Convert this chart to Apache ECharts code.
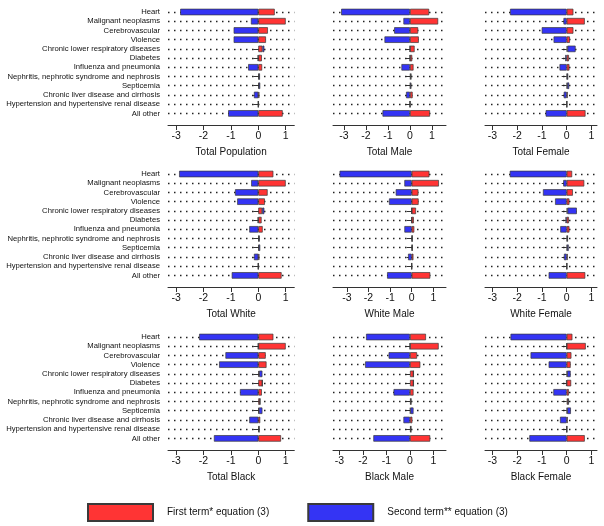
<!DOCTYPE html>
<html><head><meta charset="utf-8">
<script src="https://cdn.jsdelivr.net/npm/echarts@6/dist/echarts.min.js"></script>
<style>html,body{margin:0;padding:0;background:#fff}#c{width:604px;height:526px}</style>
</head><body><div id="c"></div>
<script>
const categories = ['Heart','Malignant neoplasms','Cerebrovascular','Violence','Chronic lower respiratory diseases','Diabetes','Influenza and pneumonia','Nephritis, nephrotic syndrome and nephrosis','Septicemia','Chronic liver disease and cirrhosis','Hypertension and hypertensive renal disease','All other'];
const tickValues = [-3, -2, -1, 0, 1];
const seriesNames = ['First term* equation (3)', 'Second term** equation (3)'];

const firstTotalPopulation  = [0.60, 1.00, 0.35, 0.28, 0.15, 0.13, 0.14, 0.02, 0.02, 0.04, 0.01, 0.89];
const secondTotalPopulation = [-2.85, -0.27, -0.90, -0.90, 0.07, -0.02, -0.37, 0.04, 0.05, -0.16, -0.005, -1.10];
const firstTotalMale  = [0.87, 1.28, 0.37, 0.40, 0.21, 0.10, 0.16, 0.03, 0.02, 0.12, 0.01, 0.91];
const secondTotalMale = [-3.13, -0.30, -0.72, -1.16, -0.01, -0.01, -0.39, 0.03, 0.04, -0.18, -0.005, -1.25];
const firstTotalFemale  = [0.27, 0.73, 0.27, 0.13, 0.03, 0.09, 0.11, 0.02, 0.02, 0.04, 0.005, 0.76];
const secondTotalFemale = [-2.29, -0.13, -1.01, -0.53, 0.33, -0.06, -0.29, 0.04, 0.08, -0.12, 0.005, -0.85];
const firstTotalWhite  = [0.55, 1.00, 0.34, 0.24, 0.14, 0.12, 0.16, 0.02, 0.02, 0.04, 0.005, 0.85];
const secondTotalWhite = [-2.89, -0.26, -0.85, -0.77, 0.08, -0.02, -0.33, 0.03, 0.05, -0.16, -0.005, -0.97];
const firstWhiteMale  = [0.82, 1.26, 0.31, 0.32, 0.20, 0.10, 0.12, 0.02, 0.02, 0.08, 0.005, 0.86];
const secondWhiteMale = [-3.34, -0.34, -0.74, -1.05, -0.01, -0.01, -0.34, 0.01, 0.02, -0.17, -0.005, -1.14];
const firstWhiteFemale  = [0.22, 0.71, 0.25, 0.11, 0.03, 0.09, 0.11, 0.02, 0.02, 0.04, 0.005, 0.75];
const secondWhiteFemale = [-2.30, -0.14, -0.96, -0.47, 0.38, -0.05, -0.26, 0.03, 0.06, -0.11, 0.005, -0.73];
const firstTotalBlack  = [0.55, 1.00, 0.27, 0.30, 0.03, 0.15, 0.13, 0.06, 0.02, 0.07, 0.03, 0.83];
const secondTotalBlack = [-2.16, -0.01, -1.20, -1.43, 0.12, 0.00, -0.67, 0.01, 0.13, -0.33, 0.00, -1.62];
const firstBlackMale  = [0.68, 1.22, 0.30, 0.44, 0.15, 0.15, 0.15, 0.04, 0.02, 0.10, 0.04, 0.86];
const secondBlackMale = [-1.87, -0.01, -0.91, -1.91, 0.00, 0.00, -0.70, 0.01, 0.13, -0.28, 0.00, -1.56];
const firstBlackFemale  = [0.23, 0.77, 0.19, 0.16, 0.02, 0.18, 0.09, 0.05, 0.02, 0.04, 0.005, 0.73];
const secondBlackFemale = [-2.27, -0.01, -1.46, -0.73, 0.14, -0.02, -0.54, 0.04, 0.15, -0.27, 0.00, -1.51];

const panels = [
  {title: 'Total Population', first: firstTotalPopulation, second: secondTotalPopulation},
  {title: 'Total Male', first: firstTotalMale, second: secondTotalMale},
  {title: 'Total Female', first: firstTotalFemale, second: secondTotalFemale},
  {title: 'Total White', first: firstTotalWhite, second: secondTotalWhite},
  {title: 'White Male', first: firstWhiteMale, second: secondWhiteMale},
  {title: 'White Female', first: firstWhiteFemale, second: secondWhiteFemale},
  {title: 'Total Black', first: firstTotalBlack, second: secondTotalBlack},
  {title: 'Black Male', first: firstBlackMale, second: secondBlackMale},
  {title: 'Black Female', first: firstBlackFemale, second: secondBlackFemale}
];

// layout (pixels)
const FONT = '"Liberation Sans", Arial, sans-serif';
const RED = '#FF3434', BLUE = '#3434F4', EDGE = '#3a3a3a', INK = '#111';
const colLeft = [168, 333, 485], colRight = [294.3, 446, 597];
const rowTop = [7.4, 169.4, 332.4], gridH = 110.6;
const zeroPx = [[258.3, 410, 566.7], [258.3, 411.7, 566.7], [258.3, 410, 566.7]];
const unitPx = [[27.4, 22, 24.75], [27.4, 21.6, 24.75], [27.4, 23.5, 24.75]];

const grid = [], xAxis = [], yAxis = [], series = [];
panels.forEach((p, i) => {
  const r = Math.floor(i / 3), c = i % 3;
  grid.push({left: colLeft[c], top: rowTop[r], width: colRight[c] - colLeft[c], height: gridH, containLabel: false});
  xAxis.push({
    gridIndex: i, type: 'value',
    min: (colLeft[c] - zeroPx[r][c]) / unitPx[r][c],
    max: (colRight[c] - zeroPx[r][c]) / unitPx[r][c],
    offset: 7,
    axisLine: {show: true, onZero: false, lineStyle: {color: '#333', width: 1}},
    axisTick: {show: true, length: 5, customValues: tickValues, lineStyle: {color: '#333'}},
    axisLabel: {customValues: tickValues, fontSize: 10.5, color: INK, margin: 6, fontFamily: FONT},
    splitLine: {show: false},
    name: p.title, nameLocation: 'middle', nameGap: 22,
    nameTextStyle: {fontSize: 10, color: INK, fontFamily: FONT}
  });
  yAxis.push({
    gridIndex: i, type: 'category', data: categories, inverse: true,
    axisLine: {show: false},
    axisTick: {show: true, alignWithLabel: true, interval: 0, length: 5, lineStyle: {color: '#333'}},
    axisLabel: {show: c === 0, interval: 0, fontSize: 7.7, color: INK, margin: 8, fontFamily: FONT},
    splitLine: {show: false}
  });
  const common = {type: 'bar', xAxisIndex: i, yAxisIndex: i, stack: 'panel' + i, barWidth: 6.5, z: 3, animation: false};
  series.push(Object.assign({}, common, {
    name: seriesNames[0], data: p.first,
    itemStyle: {color: RED, borderColor: EDGE, borderWidth: 0.7},
    markLine: {
      silent: true, symbol: ['none', 'none'], label: {show: false}, z: 1, animation: false,
      lineStyle: {type: [1.5, 4.5], color: '#222', width: 1.3},
      data: categories.map((cat, k) => ({yAxis: k}))
    }
  }));
  series.push(Object.assign({}, common, {
    name: seriesNames[1], data: p.second,
    itemStyle: {color: BLUE, borderColor: EDGE, borderWidth: 0.7}
  }));
});

const chart = echarts.init(document.getElementById('c'), null, {renderer: 'canvas'});
chart.setOption({
  animation: false,
  backgroundColor: '#fff',
  textStyle: {fontFamily: FONT},
  grid, xAxis, yAxis, series,
  legend: {
    data: seriesNames, left: 87, top: 503, padding: 0,
    itemWidth: 65, itemHeight: 17, itemGap: 38, icon: 'rect', selectedMode: false,
    textStyle: {fontSize: 10, color: INK, fontFamily: FONT, padding: [0, 0, 0, 9]}
  }
});
</script></body></html>
